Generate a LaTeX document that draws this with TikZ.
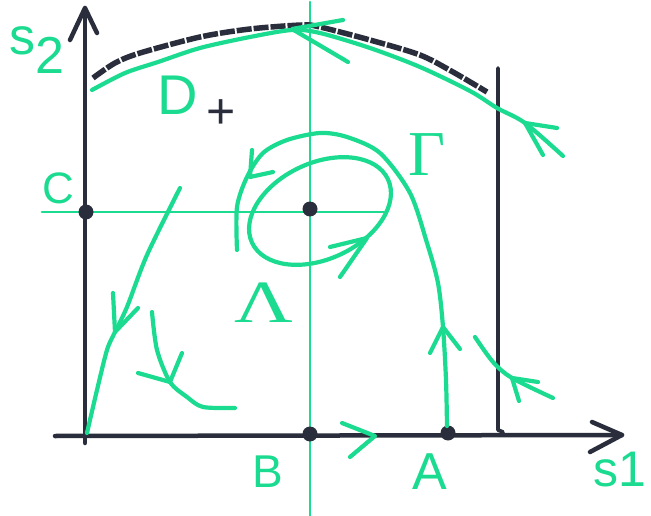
\documentclass[tikz,border=0pt]{standalone}
\usepackage{fontspec}
\setmainfont{Liberation Sans}
\newfontfamily\greekser{Liberation Serif}
\definecolor{gm}{RGB}{26,219,143}
\definecolor{bm}{RGB}{42,46,60}
\tikzset{
 gline/.style={draw=gm, line width=4.2pt, line cap=round, line join=round},
 gthin/.style={draw=gm, line width=2.8pt, line cap=round},
 bline/.style={draw=bm, line width=4.5pt, line cap=round, line join=round},
 bdash/.style={draw=bm, line width=5.5pt, line cap=butt, dash pattern=on 15pt off 2pt},
 dotn/.style={circle, fill=bm, inner sep=0pt, minimum size=15pt},
 lab/.style={text=gm, inner sep=0pt, font=\fontsize{44}{44}\selectfont},
}
\begin{document}
\begin{tikzpicture}[x=1pt,y=-1pt]
\useasboundingbox[fill=white] (0,0) rectangle (651,516);
% thin green axes through the centre
\coordinate (vt) at (310,2);
\coordinate (vb) at (310,516);
\coordinate (hl) at (42,212);
\coordinate (hr) at (384,212);
\draw[gthin] (vt) -- (vb);
\draw[gthin] (hl) -- (hr);
% black axes
\coordinate (y0) at (85,443);
\coordinate (y1) at (85,8);
\coordinate (x0) at (55,436);
\coordinate (x1) at (622,435);
\draw[bline] (y0) -- (y1);
\draw[bline] (70,40) -- (y1) -- (97,33);
\draw[bline] (x0) -- (x1);
\draw[bline] (592,422) -- (x1) -- (590,452);
% boundary line
\coordinate (r0) at (498,68);
\coordinate (r1) at (498,430);
\draw[bline, line width=3.8pt] (r0) -- (r1) -- (503,432);
% black dashed upper curve
\draw[bdash] plot[smooth] coordinates {(93,78) (115,63) (140,53) (200,37) (250,29) (302,25) (320,27) (370,40) (420,55) (453,72) (487,92)};
% green upper curve
\draw[gline] plot[smooth] coordinates {(92,90) (125,73) (158,62) (200,48) (250,37) (292,30) (320,33) (370,48) (420,67) (470,91) (497,108) (525,123) (563,156)};
\draw[gline] (343,20) -- (292,29) -- (348,62);
\draw[gline] (557,128) -- (525,123) -- (543,155);
% right trajectory
\draw[gline] plot[smooth] coordinates {(475,337) (493,362) (512,378) (553,398)};
\draw[gline] (538,382) -- (512,378) -- (519,401);
% dots
\node[dotn] (C) at (86,212) {};
\node[dotn] (Oc) at (310,209) {};
\node[dotn] (B) at (310,434) {};
\node[dotn] (A) at (448,433) {};
% Gamma curve
\draw[gline] plot[smooth] coordinates {(447,426) (446,380) (443,327) (438,283) (427,243) (410,193) (380,153) (347,137) (320,133) (287,140) (263,153) (247,177) (237,207) (237,250)};
\draw[gline] (430,353) -- (443,327) -- (460,349);
\draw[gline] (252,150) -- (250,177) -- (273,172);
% closed orbit
\draw[gline, rotate around={25:(320,211)}] (320,211) ellipse [x radius=75, y radius=48];
\draw[gline] (330,247) -- (367,238) -- (340,277);
% left trajectories
\draw[gline] plot[smooth] coordinates {(87,433) (97,390) (107,350) (115,332) (127,307) (147,255) (180,188)};
\draw[gline] (113,293) -- (115,332) -- (138,308);
\draw[gline] plot[smooth] coordinates {(152,312) (157,350) (170,382) (187,397) (203,407) (235,408)};
\draw[gline] (138,373) -- (170,382) -- (182,353);
% arrow on s1 axis
\draw[gline] (342,423) -- (375,436) -- (350,457);
% labels
\node[lab] (lC) at (58,188) {C};
\node[lab, font=\fontsize{46}{46}\selectfont] (lB) at (268,472) {B};
\node[lab, font=\fontsize{52}{52}\selectfont] (lA) at (430,472) {A};
\node[lab, font=\fontsize{56}{56}\selectfont] (lD) at (178,95) {D};
\node[text=bm, inner sep=0pt, font=\fontsize{50}{50}\selectfont] (lp) at (221,114) {+};
\node[lab, font=\greekser\fontsize{64}{64}\selectfont] (lG) at (427,155) {Γ};
\node[lab, font=\greekser\fontsize{60}{60}\selectfont, xscale=1.35] (lL) at (264,303) {Λ};
\node[lab, font=\fontsize{52}{52}\selectfont] (ls2) at (37,50) {s\raisebox{-0.35em}{2}};
\node[lab, font=\fontsize{50}{50}\selectfont] (ls1) at (620,470) {s1};
\end{tikzpicture}
\end{document}
